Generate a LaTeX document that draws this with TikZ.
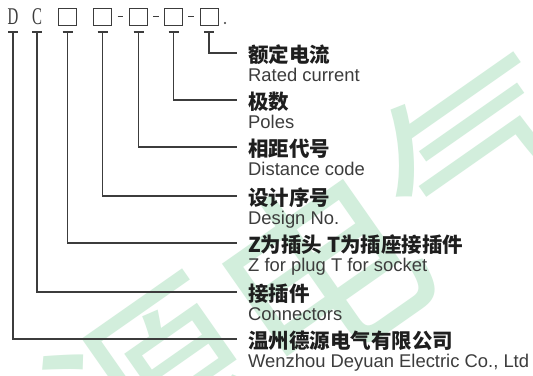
\documentclass[tikz,border=0pt]{standalone}
\usepackage{fontspec}
\setmainfont{Liberation Sans}
\newfontfamily\cjk{Noto Sans CJK SC}
\newfontfamily\serifcode{Liberation Serif}
\usetikzlibrary{calc}
\definecolor{ln}{HTML}{3C3C3C}
\definecolor{cntext}{HTML}{1E1E1E}
\definecolor{wm}{HTML}{D2EEDC}
\begin{document}
\begin{tikzpicture}[x=1pt,y=-1pt,
  leader/.style={draw=ln, line width=1.3pt},
  cn/.style={anchor=base west, inner sep=0, font=\cjk\bfseries\fontsize{20.5}{24}\selectfont, text=cntext},
  en/.style={anchor=base west, inner sep=0, font=\fontsize{18.4}{21}\selectfont, text=ln},
  codebox/.style={draw=ln, line width=0.9pt, minimum width=18pt, minimum height=17pt, inner sep=0},
  codeletter/.style={font=\serifcode\fontsize{24}{24}\selectfont, xscale=0.62, inner sep=0, text=ln},
  dashline/.style={draw=ln, line width=0.9pt}]
\useasboundingbox (0,0) rectangle (533,375);
\fill[white] (0,0) rectangle (533,375);
\begin{scope}
\clip (0,0) rectangle (533,375);
\node[rotate=35, text=wm, font=\cjk\fontsize{200}{200}\selectfont, inner sep=0] (wmark) at (238,330) {德源电气};
\end{scope}
% code row
\node[codeletter] (d) at (13,17) {D};
\node[codeletter] (c) at (37,17) {C};
\node[codebox] (b1) at (67.5,16.5) {};
\node[codebox] (b2) at (102.5,16.5) {};
\node[codebox] (b3) at (138.5,16.5) {};
\node[codebox] (b4) at (173.5,16.5) {};
\node[codebox] (b5) at (209,16.5) {};
\foreach \a/\b in {b2/b3,b3/b4,b4/b5}
  \draw[dashline] ($(\a.east)!0.33!(\b.west)$) -- ($(\a.east)!0.67!(\b.west)$);
\node[circle, fill=ln, inner sep=0, minimum size=2.4pt] (dot) at (225,23) {};
% leaders
\foreach \i/\xs/\lv in {5/209/53, 4/173.5/100, 3/138.5/147, 2/102.5/196, 1/67.5/243, 0/37/292, 9/13/339}{
  \coordinate (t\i) at (\xs,32);
  \coordinate (e\i) at (237,\lv);
  \draw[leader] ($(t\i)+(-5,0)$) -- ($(t\i)+(5,0)$);
  \draw[leader] (t\i) |- (e\i);
}
% labels
\node[cn] (cn5) at (248,62) {额定电流};
\node[en] (en5) at (248,81.5) {Rated current};
\node[cn] (cn4) at (248,109) {极数};
\node[en] (en4) at (248,128.5) {Poles};
\node[cn] (cn3) at (248,156) {相距代号};
\node[en] (en3) at (248,175.5) {Distance code};
\node[cn] (cn2) at (248,205) {设计序号};
\node[en] (en2) at (248,224.5) {Design No.};
\node[cn] (cn1) at (248,252) {Z为插头 T为插座接插件};
\node[en] (en1) at (248,271.5) {Z for plug T for socket};
\node[cn] (cn0) at (248,301) {接插件};
\node[en] (en0) at (248,320.5) {Connectors};
\node[cn] (cn9) at (248,348) {温州德源电气有限公司};
\node[en] (en9) at (248,367.5) {Wenzhou Deyuan Electric Co., Ltd};
\end{tikzpicture}
\end{document}
